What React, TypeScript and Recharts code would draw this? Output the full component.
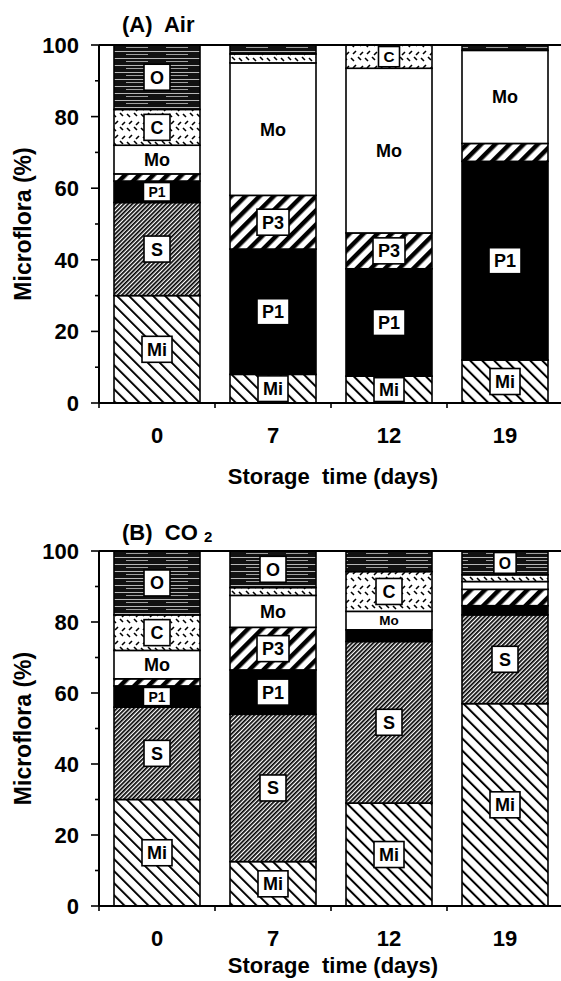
import React from 'react';
import { BarChart, Bar, XAxis, YAxis, ReferenceLine } from 'recharts';

const days = ['0', '7', '12', '19'];
const yTicks = [0, 10, 20, 30, 40, 50, 60, 70, 80, 90, 100];
const seriesKeys = ['Mi', 'S', 'P1', 'P3', 'Mo', 'C', 'O'];

// (A) Air — percentages per storage day, bottom to top
const airMi = [30, 8, 7.5, 12];
const airS = [26, 0, 0, 0];
const airP1 = [6, 35, 30, 55.5];
const airP3 = [2, 15, 10, 5];
const airMo = [8, 37, 46, 26];
const airC = [10, 2.5, 6.5, 0];
const airO = [18, 2.5, 0, 1.5];

// (B) CO2
const co2Mi = [30, 12.5, 29, 57];
const co2S = [26, 41.5, 45.5, 25];
const co2P1 = [6, 12.5, 3.3, 2.6];
const co2P3 = [2, 12, 0, 4.6];
const co2Mo = [8, 9, 5.2, 2.2];
const co2C = [10, 2.2, 11.2, 1.9];
const co2O = [18, 10.3, 5.8, 6.7];

// which segments carry a text label, per day
const airLabeled = [
  ['Mi', 'S', 'P1', 'Mo', 'C', 'O'],
  ['Mi', 'P1', 'P3', 'Mo'],
  ['Mi', 'P1', 'P3', 'Mo', 'C'],
  ['Mi', 'P1', 'Mo'],
];
const co2Labeled = [
  ['Mi', 'S', 'P1', 'Mo', 'C', 'O'],
  ['Mi', 'S', 'P1', 'P3', 'Mo', 'O'],
  ['Mi', 'S', 'Mo', 'C'],
  ['Mi', 'S', 'O'],
];

const buildRows = (cols: number[][]) =>
  days.map((d, i) => {
    const row: any = { day: d };
    seriesKeys.forEach((k, j) => {
      row[k] = cols[j][i];
    });
    return row;
  });

const airRows = buildRows([airMi, airS, airP1, airP3, airMo, airC, airO]);
const co2Rows = buildRows([co2Mi, co2S, co2P1, co2P3, co2Mo, co2C, co2O]);

const FONT = "'Liberation Sans', Arial, Helvetica, sans-serif";
const CHART_W = 566;
const AXIS_X = 99;
const RIGHT_M = 3;
const BAND = (CHART_W - RIGHT_M - AXIS_X) / days.length;
const X_AXIS_H = 60;

const charW: Record<string, number> = {
  M: 0.833, i: 0.278, o: 0.611, O: 0.778, C: 0.722, S: 0.667, P: 0.667, '1': 0.556, '3': 0.556,
};
const textWidth = (s: string, fs: number) =>
  s.split('').reduce((a, c) => a + (charW[c] || 0.6) * fs, 0);

const fillFor = (key: string, prefix: string) => {
  switch (key) {
    case 'Mi': return `url(#${prefix}-mi)`;
    case 'S': return `url(#${prefix}-s)`;
    case 'P1': return '#000';
    case 'P3': return `url(#${prefix}-p3)`;
    case 'Mo': return '#fff';
    case 'C': return `url(#${prefix}-c)`;
    case 'O': return `url(#${prefix}-o)`;
    default: return '#fff';
  }
};

const Patterns = ({ prefix }: { prefix: string }) => (
  <defs>
    <pattern id={`${prefix}-mi`} patternUnits="userSpaceOnUse" width={8.5} height={8.5} patternTransform="rotate(-45)">
      <rect width={8.5} height={8.5} fill="#fff" />
      <rect width={2} height={8.5} fill="#000" />
    </pattern>
    <pattern id={`${prefix}-s`} patternUnits="userSpaceOnUse" width={3} height={3} patternTransform="rotate(45)">
      <rect width={3} height={3} fill="#fff" />
      <rect width={1.7} height={3} fill="#000" />
    </pattern>
    <pattern id={`${prefix}-p3`} patternUnits="userSpaceOnUse" width={10} height={10} patternTransform="rotate(45)">
      <rect width={10} height={10} fill="#fff" />
      <rect width={4.5} height={10} fill="#000" />
    </pattern>
    <pattern id={`${prefix}-o`} patternUnits="userSpaceOnUse" width={40} height={7}>
      <rect width={40} height={7} fill="#111" />
      <rect x={0} y={2} width={40} height={0.7} fill="#fff" />
      <rect x={6} y={5.2} width={22} height={0.6} fill="#fff" />
    </pattern>
    <pattern id={`${prefix}-c`} patternUnits="userSpaceOnUse" width={14} height={14}>
      <rect width={14} height={14} fill="#fff" />
      <path d="M1 2 L4 5 M8 1 L11 4 M3 12 L6 9 M10 13 L13 10" stroke="#000" strokeWidth={1.6} />
    </pattern>
  </defs>
);

const makeShape = (key: string, labeled: string[][], prefix: string) => (props: any) => {
  const { x, y, width, height, index } = props;
  const h = Math.abs(height || 0);
  if (!h || h < 0.01 || !width) return <g />;
  const top = Math.min(y, y + height);
  const cx = x + width / 2;
  const cy = top + h / 2;
  const show = labeled[index] && labeled[index].includes(key);
  let label = null;
  if (show) {
    if (key === 'Mo') {
      const fs = Math.min(18, Math.max(13, h - 5));
      label = (
        <text x={cx} y={cy + fs * 0.36} textAnchor="middle" fontFamily={FONT} fontWeight="bold" fontSize={fs} fill="#000">
          {key}
        </text>
      );
    } else {
      const boxH = Math.min(26, h - 3);
      const fs = Math.min(18, Math.max(14, boxH - 5));
      const boxW = Math.max(boxH, textWidth(key, fs) + 10);
      label = (
        <g>
          <rect x={cx - boxW / 2} y={cy - boxH / 2} width={boxW} height={boxH} fill="#fff" stroke="#000" strokeWidth={1.6} />
          <text x={cx} y={cy + fs * 0.36} textAnchor="middle" fontFamily={FONT} fontWeight="bold" fontSize={fs} fill="#000">
            {key}
          </text>
        </g>
      );
    }
  }
  return (
    <g>
      <rect x={x} y={top} width={width} height={h} fill={fillFor(key, prefix)} stroke="#000" strokeWidth={1.6} />
      {label}
    </g>
  );
};

const YTick = (props: any) => {
  const { y, payload } = props;
  const v = payload.value;
  const major = v % 20 === 0;
  return (
    <g>
      <line x1={AXIS_X - (major ? 8 : 4)} x2={AXIS_X} y1={y} y2={y} stroke="#000" strokeWidth={1.6} />
      {major && (
        <text x={79} y={y + 8} textAnchor="end" fontFamily={FONT} fontWeight="bold" fontSize={22} fill="#000">
          {v}
        </text>
      )}
    </g>
  );
};

const makeXTick = (axisY: number) => (props: any) => {
  const { payload, index } = props;
  const cx = payload.coordinate;
  const left = cx - BAND / 2;
  const right = cx + BAND / 2;
  return (
    <g>
      <line x1={left} x2={left} y1={axisY} y2={axisY + 5} stroke="#000" strokeWidth={1.6} />
      {index === days.length - 1 && (
        <line x1={right} x2={right} y1={axisY} y2={axisY + 5} stroke="#000" strokeWidth={1.6} />
      )}
      <text x={cx} y={axisY + 39.5} textAnchor="middle" fontFamily={FONT} fontWeight="bold" fontSize={22} fill="#000">
        {payload.value}
      </text>
    </g>
  );
};

type PanelProps = {
  rows: any[];
  labeled: string[][];
  prefix: string;
  top: number;
  height: number;
  bottomMargin: number;
  titleBaseline: number;
  title: React.ReactNode;
  xTitleBaseline: number;
};

const Panel = ({ rows, labeled, prefix, top, height, bottomMargin, titleBaseline, title, xTitleBaseline }: PanelProps) => {
  const plotTop = 45;
  const axisY = height - bottomMargin - X_AXIS_H;
  const plotCx = (AXIS_X + CHART_W - RIGHT_M) / 2 + 2;
  const plotCy = (plotTop + axisY) / 2;
  return (
    <div style={{ position: 'absolute', left: 0, top, width: CHART_W, height }}>
      <BarChart
        width={CHART_W}
        height={height}
        data={rows}
        margin={{ top: plotTop, right: RIGHT_M, bottom: bottomMargin, left: 0 }}
        barCategoryGap={15}
      >
        <Patterns prefix={prefix} />
        <XAxis
          dataKey="day"
          height={X_AXIS_H}
          tickLine={false}
          axisLine={{ stroke: '#000', strokeWidth: 2 }}
          tick={makeXTick(axisY)}
          interval={0}
        />
        <YAxis
          width={AXIS_X}
          type="number"
          domain={[0, 100]}
          allowDataOverflow
          ticks={yTicks}
          interval={0}
          tickLine={false}
          axisLine={{ stroke: '#000', strokeWidth: 2 }}
          tick={<YTick />}
        />
        {seriesKeys.map((k) => (
          <Bar key={k} dataKey={k} stackId="a" isAnimationActive={false} shape={makeShape(k, labeled, prefix)} />
        ))}
        <ReferenceLine y={100} stroke="#000" strokeWidth={2} />
        <text x={122} y={titleBaseline} fontFamily={FONT} fontWeight="bold" fontSize={22} fill="#000" style={{ whiteSpace: 'pre' }}>
          {title}
        </text>
        <text
          x={31}
          y={plotCy}
          transform={`rotate(-90, 31, ${plotCy})`}
          textAnchor="middle"
          fontFamily={FONT}
          fontWeight="bold"
          fontSize={23}
          fill="#000"
        >
          Microflora (%)
        </text>
        <text
          x={plotCx}
          y={xTitleBaseline}
          textAnchor="middle"
          fontFamily={FONT}
          fontWeight="bold"
          fontSize={22}
          fill="#000"
          style={{ whiteSpace: 'pre' }}
        >
          {'Storage  time (days)'}
        </text>
      </BarChart>
    </div>
  );
};

export default function App() {
  return (
    <div style={{ position: 'absolute', left: 0, top: 0, width: 561, height: 981, overflow: 'hidden', background: '#fff' }}>
      <Panel
        rows={airRows}
        labeled={airLabeled}
        prefix="air"
        top={0}
        height={500}
        bottomMargin={37}
        titleBaseline={32}
        title={'(A)  Air'}
        xTitleBaseline={484}
      />
      <Panel
        rows={co2Rows}
        labeled={co2Labeled}
        prefix="co2"
        top={506}
        height={475}
        bottomMargin={15}
        titleBaseline={34}
        title={
          <>
            {'(B)  CO '}
            <tspan fontSize={15} dy={2}>2</tspan>
          </>
        }
        xTitleBaseline={467}
      />
    </div>
  );
}
